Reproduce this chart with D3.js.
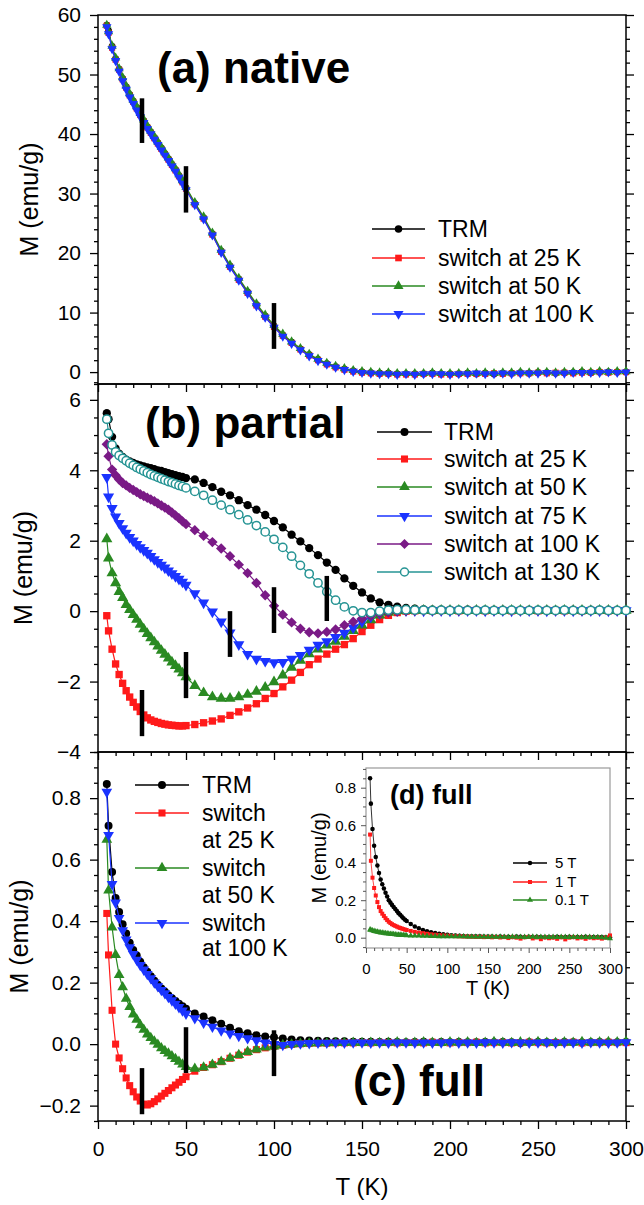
<!DOCTYPE html>
<html>
<head>
<meta charset="utf-8">
<script src="https://cdn.jsdelivr.net/npm/d3@7"></script>
<style>
	body { margin: 0; background: #fff; }
	svg { font-family: "Liberation Sans", Arial, Helvetica, sans-serif; }
</style>
</head>
<body>
<svg id="chart" width="644" height="1205"></svg>
<script>
// temperature grid shared by every series (K)
var temps = [5,6,8,10,12,14,16,18,20,22,24,26,28,30,32,34,36,38,40,42,44,46,48,50,
	55,60,65,70,75,80,85,90,95,100,105,110,115,120,125,130,135,140,145,150,
	155,160,165,170,175,180,185,190,195,200,205,210,215,220,225,230,235,240,245,250,255,260,265,270,275,280,285,290,295,300];

// (a) native
var nativeTRM = [58.3,57.3,54.7,52.6,50.9,49.3,47.9,46.6,45.5,44.4,43.3,42.2,41.2,40.3,39.4,38.5,37.6,36.7,35.8,34.9,34.0,33.0,32.0,30.9,
	28.3,25.9,23.2,20.3,17.8,15.6,13.4,11.3,9.4,7.7,6.2,5.0,3.9,2.9,2.1,1.4,0.9,0.5,0.2,0.0,
	-0.1,-0.2,-0.2,-0.3,-0.3,-0.3,-0.3,-0.2,-0.3,-0.3,-0.3,-0.2,-0.3,-0.2,-0.3,-0.2,-0.2,-0.1,-0.2,-0.1,-0.1,-0.2,-0.1,-0.1,0.0,-0.1,0.0,0.0,0.0,0.0];
var native25 = [58.2,57.0,54.5,52.5,50.8,49.2,47.8,46.5,45.4,44.3,43.2,42.1,41.1,40.2,39.3,38.4,37.5,36.6,35.7,34.8,33.9,32.9,31.9,30.8,
	28.2,25.8,23.1,20.2,17.7,15.5,13.3,11.2,9.3,7.6,6.1,4.9,3.8,2.8,2.0,1.3,0.8,0.4,0.1,-0.1,
	-0.2,-0.3,-0.3,-0.4,-0.4,-0.4,-0.3,-0.3,-0.4,-0.4,-0.3,-0.3,-0.3,-0.3,-0.2,-0.3,-0.2,-0.2,-0.2,-0.1,-0.2,-0.1,-0.1,-0.2,-0.1,-0.1,0.0,-0.1,0.0,0.0];
var native50 = [58.3,57.2,54.8,52.8,51.0,49.5,48.1,46.8,45.7,44.6,43.5,42.4,41.4,40.5,39.6,38.7,37.8,36.9,36.0,35.1,34.2,33.2,32.2,31.1,
	28.5,26.1,23.4,20.5,18.0,15.8,13.6,11.5,9.6,7.9,6.4,5.1,4.0,3.0,2.2,1.5,1.0,0.6,0.3,0.1,
	0.0,-0.1,-0.1,-0.2,-0.2,-0.2,-0.2,-0.1,-0.2,-0.2,-0.2,-0.1,-0.2,-0.1,-0.2,-0.1,-0.1,0.0,-0.1,0.0,0.0,-0.1,0.0,0.0,0.1,0.0,0.1,0.0,0.1,0.1];
var native100 = [58.0,56.8,54.3,52.3,50.5,48.9,47.5,46.2,45.1,44.0,42.9,41.9,40.9,40.0,39.1,38.2,37.3,36.4,35.5,34.6,33.7,32.7,31.7,30.6,
	28.1,25.7,23.0,20.1,17.6,15.4,13.2,11.1,9.2,7.5,6.0,4.8,3.7,2.7,1.9,1.3,0.8,0.4,0.1,-0.1,
	-0.2,-0.3,-0.3,-0.4,-0.3,-0.4,-0.3,-0.3,-0.3,-0.4,-0.3,-0.3,-0.2,-0.3,-0.3,-0.2,-0.3,-0.2,-0.2,-0.2,-0.1,-0.2,-0.2,-0.1,-0.1,-0.1,-0.1,0.0,-0.1,0.0];

// (b) partial
var partialTRM = [5.62,5.45,4.95,4.62,4.47,4.38,4.30,4.25,4.21,4.17,4.14,4.11,4.08,4.06,4.03,4.00,3.98,3.95,3.92,3.89,3.86,3.83,3.81,3.78,
	3.74,3.64,3.52,3.39,3.29,3.15,3.01,2.88,2.73,2.56,2.38,2.17,1.98,1.79,1.59,1.38,1.17,0.93,0.72,0.53,
	0.36,0.25,0.18,0.13,0.09,0.07,0.05,0.04,0.04,0.03,0.03,0.04,0.03,0.03,0.02,0.03,0.03,0.02,0.03,0.03,0.02,0.03,0.02,0.03,0.02,0.02,0.03,0.02,0.02,0.03];
var partial25 = [-0.13,-0.56,-1.08,-1.50,-1.80,-2.05,-2.26,-2.44,-2.59,-2.72,-2.85,-2.95,-3.03,-3.09,-3.13,-3.16,-3.19,-3.21,-3.23,-3.24,-3.25,-3.26,-3.26,-3.25,
	-3.22,-3.17,-3.12,-3.06,-2.96,-2.86,-2.75,-2.63,-2.48,-2.34,-2.15,-1.96,-1.74,-1.52,-1.36,-1.22,-1.08,-0.95,-0.78,-0.58,
	-0.40,-0.24,-0.12,-0.04,0.00,0.01,0.02,0.01,0.02,0.02,0.01,0.02,0.02,0.01,0.02,0.02,0.01,0.02,0.02,0.01,0.02,0.02,0.01,0.02,0.01,0.02,0.02,0.01,0.02,0.02];
var partial50 = [2.05,1.50,1.08,0.80,0.55,0.38,0.18,0.04,-0.10,-0.24,-0.38,-0.51,-0.64,-0.76,-0.88,-1.00,-1.12,-1.23,-1.34,-1.45,-1.55,-1.65,-1.76,-1.87,
	-2.12,-2.32,-2.44,-2.48,-2.48,-2.44,-2.37,-2.28,-2.17,-2.01,-1.82,-1.60,-1.40,-1.22,-1.08,-0.97,-0.86,-0.72,-0.56,-0.40,
	-0.25,-0.12,-0.04,0.00,0.01,0.02,0.02,0.01,0.02,0.02,0.02,0.01,0.02,0.02,0.01,0.02,0.02,0.02,0.01,0.02,0.02,0.01,0.02,0.02,0.02,0.01,0.02,0.02,0.01,0.02];
var partial75 = [3.80,3.25,2.92,2.68,2.50,2.35,2.22,2.10,2.00,1.90,1.81,1.73,1.65,1.56,1.47,1.39,1.31,1.23,1.15,1.07,0.99,0.91,0.83,0.74,
	0.50,0.24,-0.02,-0.30,-0.61,-0.95,-1.22,-1.36,-1.42,-1.46,-1.45,-1.36,-1.25,-1.10,-0.96,-0.86,-0.74,-0.62,-0.47,-0.30,
	-0.16,-0.06,0.00,0.02,0.02,0.02,0.01,0.02,0.02,0.01,0.02,0.02,0.02,0.01,0.02,0.02,0.01,0.02,0.02,0.02,0.01,0.02,0.02,0.01,0.02,0.02,0.02,0.01,0.02,0.02];
var partial100 = [4.74,4.40,4.02,3.86,3.74,3.64,3.57,3.50,3.44,3.38,3.32,3.27,3.22,3.17,3.12,3.06,3.00,2.94,2.88,2.80,2.72,2.64,2.55,2.47,
	2.30,2.14,1.96,1.78,1.56,1.32,1.08,0.80,0.45,0.15,-0.10,-0.32,-0.50,-0.60,-0.63,-0.59,-0.52,-0.40,-0.30,-0.21,
	-0.13,-0.07,-0.03,-0.01,0.00,0.01,0.02,0.01,0.02,0.02,0.01,0.02,0.02,0.02,0.01,0.02,0.02,0.01,0.02,0.02,0.02,0.01,0.02,0.02,0.01,0.02,0.02,0.02,0.01,0.02];
var partial130 = [5.45,5.05,4.72,4.52,4.42,4.34,4.27,4.20,4.14,4.08,4.03,3.98,3.93,3.88,3.84,3.80,3.76,3.72,3.68,3.65,3.61,3.57,3.54,3.50,
	3.40,3.29,3.15,3.01,2.88,2.74,2.59,2.43,2.25,2.04,1.81,1.56,1.30,1.06,0.80,0.55,0.31,0.12,0.01,-0.04,
	-0.04,0.00,0.03,0.04,0.04,0.03,0.03,0.02,0.03,0.02,0.03,0.02,0.02,0.03,0.02,0.02,0.03,0.02,0.02,0.03,0.02,0.02,0.03,0.02,0.02,0.02,0.03,0.02,0.02,0.02];

// (c) full
var fullTRM = [0.846,0.71,0.56,0.475,0.43,0.39,0.36,0.33,0.306,0.288,0.268,0.25,0.235,0.221,0.206,0.193,0.181,0.17,0.159,0.149,0.14,0.131,0.123,0.115,
	0.10,0.09,0.078,0.066,0.053,0.042,0.035,0.029,0.025,0.022,0.018,0.015,0.013,0.012,0.011,0.010,0.009,0.009,0.008,0.008,
	0.008,0.007,0.008,0.007,0.006,0.007,0.008,0.006,0.007,0.006,0.007,0.006,0.006,0.007,0.006,0.007,0.006,0.004,0.006,0.007,0.006,0.005,0.007,0.006,0.005,0.006,0.007,0.006,0.006,0.007];
var full25 = [0.425,0.29,0.11,0.0,-0.045,-0.08,-0.11,-0.135,-0.155,-0.172,-0.185,-0.195,-0.198,-0.194,-0.187,-0.178,-0.169,-0.160,-0.151,-0.142,-0.133,-0.124,-0.115,-0.106,
	-0.088,-0.076,-0.067,-0.057,-0.046,-0.036,-0.026,-0.018,-0.012,-0.007,-0.004,-0.001,0.001,0.002,0.003,0.003,0.004,0.004,0.004,0.005,
	0.004,0.005,0.005,0.004,0.005,0.005,0.004,0.006,0.005,0.004,0.005,0.005,0.006,0.004,0.005,0.005,0.004,0.005,0.006,0.005,0.004,0.005,0.005,0.006,0.004,0.005,0.005,0.006,0.005,0.005];
var full50 = [0.665,0.50,0.38,0.29,0.225,0.185,0.148,0.121,0.097,0.08,0.062,0.047,0.032,0.02,0.009,-0.002,-0.013,-0.022,-0.03,-0.039,-0.048,-0.057,-0.066,-0.074,
	-0.080,-0.076,-0.067,-0.057,-0.046,-0.035,-0.025,-0.017,-0.011,-0.007,-0.003,-0.001,0.001,0.002,0.003,0.003,0.004,0.004,0.005,0.004,
	0.005,0.004,0.005,0.006,0.004,0.005,0.006,0.005,0.004,0.006,0.005,0.006,0.004,0.005,0.007,0.005,0.004,0.006,0.005,0.007,0.005,0.004,0.006,0.005,0.007,0.005,0.006,0.007,0.006,0.008];
var full100 = [0.82,0.68,0.52,0.46,0.41,0.37,0.34,0.315,0.293,0.274,0.257,0.242,0.228,0.214,0.20,0.188,0.176,0.165,0.153,0.142,0.131,0.12,0.109,0.099,
	0.084,0.069,0.056,0.044,0.034,0.026,0.019,0.012,0.005,0.0,-0.003,0.0,0.002,0.003,0.004,0.004,0.005,0.004,0.005,0.005,
	0.004,0.005,0.004,0.005,0.005,0.004,0.005,0.004,0.005,0.006,0.004,0.005,0.004,0.006,0.005,0.004,0.006,0.005,0.004,0.005,0.006,0.004,0.005,0.005,0.004,0.006,0.005,0.004,0.005,0.006];

// (d) inset, full TRM at different fields
var field5T = [0.85,0.715,0.58,0.49,0.43,0.385,0.345,0.31,0.285,0.262,0.24,0.22,0.20,0.187,0.175,0.164,0.153,0.142,0.131,0.122,0.113,0.104,0.096,0.089,
	0.073,0.06,0.05,0.041,0.034,0.029,0.025,0.021,0.018,0.015,0.013,0.011,0.01,0.009,0.008,0.008,0.007,0.007,0.006,0.006,
	0.006,0.005,0.006,0.005,0.005,0.004,0.006,0.005,0.004,0.005,0.003,0.005,0.004,0.002,0.004,0.003,0.005,0.004,0.003,0.005,0.004,0.003,0.004,0.005,0.003,0.004,0.003,0.004,0.002,0.003];
var field1T = [0.55,0.41,0.32,0.265,0.225,0.19,0.163,0.142,0.128,0.116,0.104,0.094,0.085,0.078,0.072,0.067,0.063,0.059,0.055,0.052,0.049,0.046,0.043,0.041,
	0.036,0.031,0.027,0.024,0.021,0.018,0.016,0.014,0.012,0.011,0.009,0.008,0.007,0.006,0.006,0.005,0.004,0.005,0.003,0.004,
	0.002,0.004,0.001,0.003,-0.002,0.003,0.000,-0.005,0.002,0.004,-0.004,0.001,-0.008,0.002,-0.003,0.001,-0.006,0.002,-0.009,0.000,0.003,-0.004,0.001,-0.006,0.002,-0.003,0.000,-0.005,0.001,0.012];
var field01T = [0.043,0.041,0.038,0.035,0.033,0.031,0.029,0.027,0.026,0.025,0.023,0.022,0.021,0.020,0.019,0.018,0.017,0.016,0.015,0.015,0.014,0.013,0.013,0.012,
	0.011,0.010,0.010,0.009,0.009,0.008,0.008,0.007,0.007,0.007,0.006,0.006,0.006,0.006,0.005,0.005,0.005,0.005,0.005,0.004,
	0.005,0.004,0.005,0.004,0.004,0.005,0.004,0.004,0.003,0.004,0.005,0.003,0.004,0.004,0.003,0.004,0.003,0.004,0.003,0.003,0.004,0.003,0.002,0.003,0.003,0.002,0.002,0.001,0.000,-0.004];

// switching temperatures marked with black bars: temperature, top and bottom of bar
var barsA_T = [25, 50, 100], barsA_top = [46, 34.6, 11.6], barsA_bot = [38.5, 26.8, 3.9];
var barsB_T = [25, 50, 75, 100, 130], barsB_top = [-2.24, -1.16, 0.0, 0.68, 1.0], barsB_bot = [-3.55, -2.47, -1.3, -0.62, -0.28];
var barsC_T = [25, 50, 100], barsC_top = [-0.078, 0.055, 0.045], barsC_bot = [-0.228, -0.094, -0.104];

var xTicks = [0, 50, 100, 150, 200, 250, 300];

//series styles
var black = "#000000", red = "#ff1a1a", green = "#2a8a22", blue = "#1a33ff", purple = "#7a1a86", teal = "#269494";
var sym = {
	circle: {type: d3.symbolCircle, rot: 0},
	square: {type: d3.symbolSquare, rot: 0},
	up: {type: d3.symbolTriangle, rot: 0},
	down: {type: d3.symbolTriangle, rot: 180},
	diamond: {type: d3.symbolSquare, rot: 45},
	open: {type: d3.symbolCircle, rot: 0, open: true}
};

var svg = d3.select("#chart");
var x = d3.scaleLinear().domain([0, 300]).range([98, 626]);

function minorOf(lo, hi, step, majors) {
	return d3.range(lo, hi + step / 2, step).filter(function(v){
		return !majors.some(function(m){ return Math.abs(m - v) < step / 10; });
	});
}

function drawMarks(g, xs, ys, series, msize) {
	series.forEach(function(s){
		var pts = temps.map(function(t, i){ return [t, s.values[i]]; });
		g.append("path").datum(pts)
			.attr("d", d3.line().x(function(d){ return xs(d[0]); }).y(function(d){ return ys(d[1]); }))
			.attr("fill", "none").attr("stroke", s.color).attr("stroke-width", 1.2);
		var st = sym[s.shape];
		g.selectAll(null).data(pts).enter().append("path")
			.attr("transform", function(d){ return "translate(" + xs(d[0]) + "," + ys(d[1]) + ") rotate(" + st.rot + ")"; })
			.attr("d", d3.symbol().type(st.type).size(msize))
			.attr("fill", st.open ? "#fff" : s.color)
			.attr("stroke", st.open ? s.color : "none")
			.attr("stroke-width", 1.5);
	});
}

function drawLegend(items, x1, x2, tx, fs, msize) {
	var g = svg.append("g");
	items.forEach(function(it){
		g.append("line").attr("x1", x1).attr("x2", x2).attr("y1", it.y).attr("y2", it.y)
			.attr("stroke", it.color).attr("stroke-width", 1.4);
		var st = sym[it.shape];
		g.append("path")
			.attr("transform", "translate(" + ((x1 + x2) / 2) + "," + it.y + ") rotate(" + st.rot + ")")
			.attr("d", d3.symbol().type(st.type).size(msize))
			.attr("fill", st.open ? "#fff" : it.color)
			.attr("stroke", st.open ? it.color : "none").attr("stroke-width", 1.5);
		it.lines.forEach(function(txt, k){
			g.append("text").attr("x", tx).attr("y", it.textY[k] + fs * 0.36)
				.attr("font-size", fs).attr("fill", "#000").text(txt);
		});
	});
}

function styleAxis(sel, fs) {
	sel.select(".domain").remove();
	sel.selectAll("line").attr("stroke", "#000").attr("stroke-width", 1.3);
	sel.selectAll("text").attr("font-size", fs).attr("fill", "#000").attr("font-family", "Liberation Sans, Arial, sans-serif");
}

function drawPanel(p) {
	var y = d3.scaleLinear().domain(p.domain).range([p.bottom, p.top]);
	var g = svg.append("g");
	var minY = minorOf(p.minorStart, p.domain[1], p.minorStep, p.yTicks);
	var minX = minorOf(0, 300, 10, xTicks);

	//left axis
	g.append("g").attr("transform", "translate(98,0)")
		.call(d3.axisLeft(y).tickValues(p.yTicks).tickSize(8).tickPadding(9).tickFormat(p.fmt))
		.call(styleAxis, 21);
	g.append("g").attr("transform", "translate(98,0)")
		.call(d3.axisLeft(y).tickValues(minY).tickSize(4).tickFormat(""))
		.call(styleAxis, 21);
	//right axis
	g.append("g").attr("transform", "translate(626,0)")
		.call(d3.axisRight(y).tickValues(p.yTicks).tickSize(8).tickFormat(""))
		.call(styleAxis, 21);
	g.append("g").attr("transform", "translate(626,0)")
		.call(d3.axisRight(y).tickValues(minY).tickSize(4).tickFormat(""))
		.call(styleAxis, 21);
	//bottom axis
	g.append("g").attr("transform", "translate(0," + p.bottom + ")")
		.call(d3.axisBottom(x).tickValues(xTicks).tickSize(8).tickPadding(12).tickFormat(p.xLabels ? d3.format("d") : ""))
		.call(styleAxis, 21);
	g.append("g").attr("transform", "translate(0," + p.bottom + ")")
		.call(d3.axisBottom(x).tickValues(minX).tickSize(4).tickFormat(""))
		.call(styleAxis, 21);

	g.append("rect").attr("x", 98).attr("y", p.top).attr("width", 528).attr("height", p.bottom - p.top)
		.attr("fill", "none").attr("stroke", "#000").attr("stroke-width", 1.5);

	drawMarks(g, x, y, p.series, p.msize);

	//switch markers
	p.barT.forEach(function(t, i){
		g.append("line").attr("x1", x(t)).attr("x2", x(t))
			.attr("y1", y(p.barTop[i])).attr("y2", y(p.barBot[i]))
			.attr("stroke", "#000").attr("stroke-width", 4.5);
	});

	g.append("text").attr("transform", "translate(" + p.ylabX + "," + ((p.top + p.bottom) / 2) + ") rotate(-90)")
		.attr("text-anchor", "middle").attr("font-size", 25).text("M (emu/g)");
	g.append("text").attr("x", p.labelX).attr("y", p.labelY)
		.attr("font-size", 44).attr("font-weight", "bold").text(p.label);
}

drawPanel({
	domain: [-2, 60], top: 15, bottom: 384, yTicks: [0, 10, 20, 30, 40, 50, 60], minorStart: -2, minorStep: 2,
	fmt: d3.format("d"), xLabels: false, msize: 38, ylabX: 38, label: "(a) native", labelX: 157, labelY: 83,
	barT: barsA_T, barTop: barsA_top, barBot: barsA_bot,
	series: [
		{values: nativeTRM, color: black, shape: "circle"},
		{values: native25, color: red, shape: "square"},
		{values: native50, color: green, shape: "up"},
		{values: native100, color: blue, shape: "down"}
	]
});

drawPanel({
	domain: [-4, 6.45], top: 384, bottom: 752, yTicks: [-4, -2, 0, 2, 4, 6], minorStart: -4, minorStep: 0.5,
	fmt: d3.format("d"), xLabels: false, msize: 54, ylabX: 32, label: "(b) partial", labelX: 145, labelY: 438,
	barT: barsB_T, barTop: barsB_top, barBot: barsB_bot,
	series: [
		{values: partialTRM, color: black, shape: "circle"},
		{values: partial25, color: red, shape: "square"},
		{values: partial50, color: green, shape: "up"},
		{values: partial75, color: blue, shape: "down"},
		{values: partial100, color: purple, shape: "diamond"},
		{values: partial130, color: teal, shape: "open"}
	]
});

drawPanel({
	domain: [-0.25, 0.95], top: 752, bottom: 1121, yTicks: [-0.2, 0, 0.2, 0.4, 0.6, 0.8], minorStart: -0.25, minorStep: 0.05,
	fmt: d3.format(".1f"), xLabels: true, msize: 50, ylabX: 28, label: "(c) full", labelX: 353, labelY: 1096,
	barT: barsC_T, barTop: barsC_top, barBot: barsC_bot,
	series: [
		{values: fullTRM, color: black, shape: "circle"},
		{values: full25, color: red, shape: "square"},
		{values: full50, color: green, shape: "up"},
		{values: full100, color: blue, shape: "down"}
	]
});

svg.append("text").attr("x", 362).attr("y", 1195).attr("text-anchor", "middle").attr("font-size", 24).text("T (K)");

//legends
drawLegend([
	{color: black, shape: "circle", y: 229, lines: ["TRM"], textY: [229]},
	{color: red, shape: "square", y: 258, lines: ["switch at 25 K"], textY: [258]},
	{color: green, shape: "up", y: 286, lines: ["switch at 50 K"], textY: [286]},
	{color: blue, shape: "down", y: 314, lines: ["switch at 100 K"], textY: [314]}
], 372, 425, 438, 23, 44);

drawLegend([
	{color: black, shape: "circle", y: 432, lines: ["TRM"], textY: [432]},
	{color: red, shape: "square", y: 459, lines: ["switch at 25 K"], textY: [459]},
	{color: green, shape: "up", y: 487, lines: ["switch at 50 K"], textY: [487]},
	{color: blue, shape: "down", y: 516, lines: ["switch at 75 K"], textY: [516]},
	{color: purple, shape: "diamond", y: 544, lines: ["switch at 100 K"], textY: [544]},
	{color: teal, shape: "open", y: 572, lines: ["switch at 130 K"], textY: [572]}
], 377, 432, 444, 23, 50);

drawLegend([
	{color: black, shape: "circle", y: 785, lines: ["TRM"], textY: [785]},
	{color: red, shape: "square", y: 813, lines: ["switch", "at 25 K"], textY: [813, 840]},
	{color: green, shape: "up", y: 868, lines: ["switch", "at 50 K"], textY: [868, 895]},
	{color: blue, shape: "down", y: 923, lines: ["switch", "at 100 K"], textY: [923, 948]}
], 135, 189, 202, 23, 50);

// inset (d)
var xi = d3.scaleLinear().domain([0, 300]).range([366, 610]);
var yi = d3.scaleLinear().domain([-0.055, 0.905]).range([948, 768]);
var gi = svg.append("g");
gi.append("rect").attr("x", 366).attr("y", 768).attr("width", 244).attr("height", 180)
	.attr("fill", "#fff").attr("stroke", "#999").attr("stroke-width", 1.2);
gi.append("g").attr("transform", "translate(366,0)")
	.call(d3.axisLeft(yi).tickValues([0, 0.2, 0.4, 0.6, 0.8]).tickSize(5).tickPadding(5).tickFormat(d3.format(".1f")))
	.call(styleAxis, 15);
gi.append("g").attr("transform", "translate(366,0)")
	.call(d3.axisLeft(yi).tickValues(minorOf(-0.05, 0.9, 0.05, [0, 0.2, 0.4, 0.6, 0.8])).tickSize(3).tickFormat(""))
	.call(styleAxis, 15);
gi.append("g").attr("transform", "translate(0,948)")
	.call(d3.axisBottom(xi).tickValues(xTicks).tickSize(5).tickPadding(10).tickFormat(d3.format("d")))
	.call(styleAxis, 15);
gi.append("g").attr("transform", "translate(0,948)")
	.call(d3.axisBottom(xi).tickValues(minorOf(0, 300, 10, xTicks)).tickSize(3).tickFormat(""))
	.call(styleAxis, 15);
gi.selectAll("line").attr("stroke", "#555").attr("stroke-width", 1);
drawMarks(gi, xi, yi, [
	{values: field5T, color: black, shape: "circle"},
	{values: field1T, color: red, shape: "square"},
	{values: field01T, color: green, shape: "up"}
], 16);
gi.selectAll("path").filter(function(){ return this.getAttribute("fill") === "none"; }).attr("stroke-width", 0.8);
gi.append("text").attr("x", 390).attr("y", 804).attr("font-size", 27).attr("font-weight", "bold").text("(d) full");
gi.append("text").attr("x", 488).attr("y", 995).attr("text-anchor", "middle").attr("font-size", 20).text("T (K)");
gi.append("text").attr("transform", "translate(326,858) rotate(-90)").attr("text-anchor", "middle")
	.attr("font-size", 20).text("M (emu/g)");

drawLegend([
	{color: black, shape: "circle", y: 863, lines: ["5 T"], textY: [863]},
	{color: red, shape: "square", y: 882, lines: ["1 T"], textY: [882]},
	{color: green, shape: "up", y: 900, lines: ["0.1 T"], textY: [900]}
], 513, 547, 555, 15, 16);
</script>
</body>
</html>
